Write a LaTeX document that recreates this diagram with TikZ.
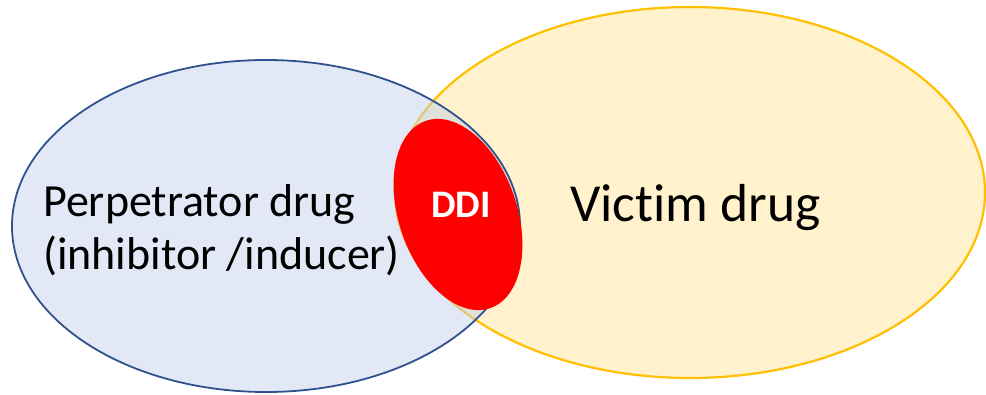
\documentclass[tikz,border=0pt]{standalone}
\usepackage{fontspec}
\setmainfont{Carlito}[Ligatures=NoCommon]
\usetikzlibrary{shapes.geometric}
\definecolor{perpline}{HTML}{2F528F}
\definecolor{perpfill}{RGB}{197,209,235}
\definecolor{victline}{HTML}{FFC000}
\definecolor{victfill}{HTML}{FFF2CC}
\definecolor{ddired}{HTML}{FF0000}
\tikzset{
  blob/.style={ellipse, inner sep=0pt, outer sep=0pt},
  bigtext/.style={font=\fontsize{46}{53}\selectfont, inner sep=0pt, align=left},
}
\begin{document}
\begin{tikzpicture}[x=1pt,y=-1pt]
\useasboundingbox (0,0) rectangle (986,395);
% victim drug ellipse
\node[blob, draw=victline, line width=2.2pt, fill=victfill,
      minimum width=590pt, minimum height=371pt] (victim) at (690,192.5) {};
% perpetrator ellipse (semi-transparent fill)
\node[blob, draw=perpline, line width=1.8pt, fill=perpfill, fill opacity=0.5, draw opacity=1,
      minimum width=508pt, minimum height=332pt] (perp) at (266,226) {};
% DDI ellipse
\node[blob, fill=ddired, rotate=19,
      minimum width=118pt, minimum height=198pt] (ddi) at (458,214.5) {};
% labels
\node[bigtext, anchor=base west] (perplabel) at (43,270) {Perpetrator drug\\(inhibitor /inducer)};
\node[font=\fontsize{53.5}{60}\selectfont, inner sep=0pt, anchor=base west] (victlabel) at (570,222) {Victim drug};
\node[font=\bfseries\fontsize{39}{44}\selectfont, text=white, inner sep=0pt, anchor=base] (ddilabel) at (461,218) {DDI};
\end{tikzpicture}
\end{document}
